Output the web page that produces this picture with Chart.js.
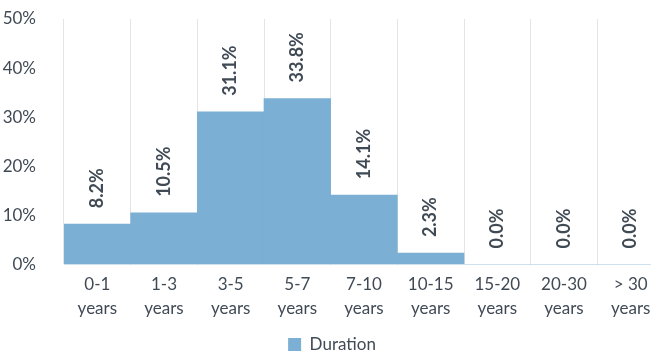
<!DOCTYPE html>
<html>
<head>
<meta charset="utf-8">
<script src="https://cdn.jsdelivr.net/npm/chart.js@4/dist/chart.umd.min.js"></script>
<style>
	html, body { margin: 0; padding: 0; background: #fff; overflow: hidden; }
	#wrap { width: 679px; height: 352px; position: relative; }
</style>
</head>
<body>
<div id="wrap"><canvas id="chart"></canvas></div>
<script>
// Duration buckets and share of portfolio (%)
var CATEGORIES = [
	["0-1", "years"], ["1-3", "years"], ["3-5", "years"], ["5-7", "years"],
	["7-10", "years"], ["10-15", "years"], ["15-20", "years"], ["20-30", "years"], ["> 30", "years"]
]
var DURATION = [8.2, 10.5, 31.1, 33.8, 14.1, 2.3, 0.0, 0.0, 0.0]
var Y_TICKS = [0, 10, 20, 30, 40, 50]

var BAR = "#7bafd4"
var TEXT = "#404a55"
var GRID = "#e4e4e4"
var FONT = '"Lato", "Open Sans", sans-serif'

// rotated value labels above each bar
var valueLabels = {
	id: "valueLabels",
	afterDatasetsDraw: function (chart) {
		var ctx = chart.ctx
		var meta = chart.getDatasetMeta(0)
		ctx.save()
		ctx.fillStyle = TEXT
		ctx.font = "bold 18px " + FONT
		ctx.textAlign = "left"
		ctx.textBaseline = "middle"
		meta.data.forEach(function (bar, i) {
			ctx.save()
			ctx.translate(bar.x, bar.y - 16)
			ctx.rotate(-Math.PI / 2)
			ctx.fillText(DURATION[i].toFixed(1) + "%", 0, 0)
			ctx.restore()
		})
		ctx.restore()
	}
}

Chart.defaults.font.family = FONT
Chart.defaults.color = TEXT

new Chart(document.getElementById("chart"), {
	type: "bar",
	data: {
		labels: CATEGORIES,
		datasets: [{
			label: "Duration",
			data: DURATION,
			backgroundColor: BAR,
			borderWidth: 0,
			categoryPercentage: 1,
			barPercentage: 1
		}]
	},
	options: {
		responsive: true,
		maintainAspectRatio: false,
		animation: false,
		layout: { padding: { top: 0, right: 15, left: 0, bottom: -11 } },
		plugins: {
			legend: {
				position: "bottom",
				labels: { boxWidth: 13, boxHeight: 13, padding: 8, font: { size: 17 }, color: TEXT }
			},
			tooltip: { enabled: false }
		},
		scales: {
			x: {
				grid: { color: GRID, drawTicks: false, offset: true },
				border: { display: false },
				ticks: { font: { size: 17, lineHeight: 1.4 }, padding: 8, maxRotation: 0, autoSkip: false }
			},
			y: {
				min: 0,
				max: 50,
				afterFit: function (s) {
					s.width = 64
					// tick padding would otherwise push the plot top down
					s.paddingTop = 19
					s.paddingBottom = 10
				},
				afterBuildTicks: function (s) {
					s.ticks = Y_TICKS.map(function (v) { return { value: v } })
				},
				grid: { display: false },
				border: { display: false },
				ticks: {
					font: { size: 17 },
					padding: 20,
					callback: function (v) { return v + "%" }
				}
			}
		}
	},
	plugins: [valueLabels]
})
</script>
</body>
</html>
